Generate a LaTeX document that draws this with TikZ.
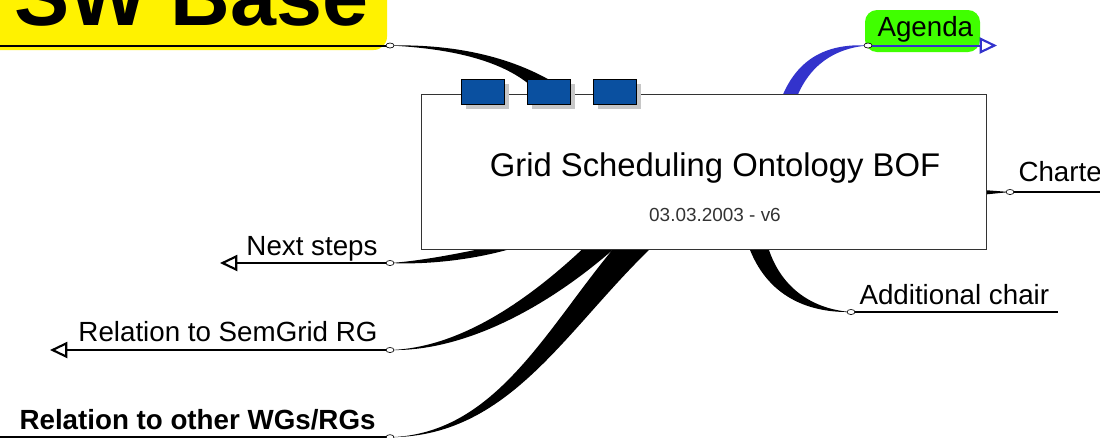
\documentclass[tikz,border=0pt]{standalone}
\usepackage{fontspec}
\setmainfont{Liberation Sans}
\usetikzlibrary{arrows.meta,shadows}

\tikzset{every picture/.style={line width=0.75pt}}
\definecolor{mapblue}{RGB}{51,51,204}
\definecolor{btnblue}{RGB}{10,80,160}
\definecolor{agendagreen}{RGB}{64,255,0}

\tikzset{
  topic/.style={inner sep=0pt, font=\fontsize{20.8}{25}\selectfont},
  topicline/.style={line width=1.5pt},
  branch/.style={fill=black},
  joint/.style={fill=white, draw=black, line width=0.5pt},
  openarrow/.style={-{Triangle[open,length=13pt,width=12pt,line width=1.6pt]}},
  toolbtn/.style={fill=btnblue, draw=black, line width=0.6pt, inner sep=0pt,
    minimum width=32.25pt, minimum height=18.75pt,
    drop shadow={shadow xshift=3.75pt, shadow yshift=-3.75pt, fill=black!22, opacity=1}},
}

\begin{document}
\begin{tikzpicture}[x=0.75pt,y=0.75pt,yscale=-1,xscale=1]
\useasboundingbox (0,0) rectangle (1100,437);
\clip (0,0) rectangle (1100,437);

%Shape: Rectangle (yellow title)
\fill[yellow, rounded corners=10] (-20,-60) rectangle (387,50);
%Shape: Rounded Rectangle (agenda)
\fill[agendagreen, rounded corners=9] (865,10) rectangle (980,52);

% joints and roots
\coordinate (swJoint) at (390,45.5);
\coordinate (swRootA) at (558,85);
\coordinate (swRootB) at (530,85);
\coordinate (swEnd) at (-5,45.5);
\coordinate (agJoint) at (868,45.5);
\coordinate (agRootA) at (780,102);
\coordinate (agRootB) at (795,102);
\coordinate (agTip) at (997,45.5);
\coordinate (chJoint) at (1010,192);
\coordinate (chRootA) at (970,189);
\coordinate (chRootB) at (970,196);
\coordinate (chEnd) at (1110,192);
\coordinate (chairJoint) at (851,312);
\coordinate (chairRootA) at (745,235);
\coordinate (chairRootB) at (765,235);
\coordinate (chairEnd) at (1058,312);
\coordinate (nsJoint) at (390,263);
\coordinate (nsRootA) at (530,238);
\coordinate (nsRootB) at (520,246);
\coordinate (nsTip) at (220,263);
\coordinate (sgJoint) at (390,350);
\coordinate (sgRootA) at (592,240);
\coordinate (sgRootB) at (628,236);
\coordinate (sgTip) at (50,350);
\coordinate (owJoint) at (390,437.2);
\coordinate (owRootA) at (625,235);
\coordinate (owRootB) at (665,235);
\coordinate (owEnd) at (-5,437.2);

%Curve Lines
\fill[branch] (swJoint) .. controls (450,44) and (510,55) .. (swRootA) -- (swRootB) .. controls (500,60) and (450,48.5) .. (swJoint) -- cycle;
%Curve Lines
\fill[mapblue] (agJoint) .. controls (825,43) and (795,60) .. (agRootA) -- (agRootB) .. controls (808,65) and (835,48) .. (agJoint) -- cycle;
%Straight Lines
\fill[branch] (chJoint) -- (chRootA) -- (chRootB) -- cycle;
%Curve Lines
\fill[branch] (chairJoint) .. controls (800,313) and (760,290) .. (chairRootA) -- (chairRootB) .. controls (775,285) and (810,309) .. (chairJoint) -- cycle;
%Curve Lines
\fill[branch] (nsJoint) .. controls (420,261) and (460,254) .. (nsRootA) -- (nsRootB) .. controls (480,259) and (430,265) .. (nsJoint) -- cycle;
%Curve Lines
\fill[branch] (sgJoint) .. controls (460,348) and (530,300) .. (sgRootA) -- (sgRootB) .. controls (560,300) and (470,352) .. (sgJoint) -- cycle;
%Curve Lines
\fill[branch] (owJoint) .. controls (500,434) and (550,320) .. (owRootA) -- (owRootB) .. controls (570,320) and (515,437) .. (owJoint) -- cycle;

%Shape: Rectangle (central topic)
\node[draw=black!80, fill=white, inner sep=0pt, minimum width=423.75pt, minimum height=116.25pt] (bof) at (703.5,171.5) {};
\node[toolbtn] (btnA) at (482.5,91.5) {};
\node[toolbtn] (btnB) at (548.5,91.5) {};
\node[toolbtn] (btnC) at (614.5,91.5) {};

%Straight Lines
\draw[topicline] (swJoint) -- (swEnd);
\draw[topicline, draw=mapblue, openarrow] (agJoint) -- (agTip);
\draw[topicline] (chJoint) -- (chEnd);
\draw[topicline] (chairJoint) -- (chairEnd);
\draw[topicline, openarrow] (nsJoint) -- (nsTip);
\draw[topicline, openarrow] (sgJoint) -- (sgTip);
\draw[topicline] (owJoint) -- (owEnd);

%Shape: Ellipse
\foreach \j in {swJoint,agJoint,chJoint,chairJoint,nsJoint,sgJoint,owJoint}
  \draw[joint] (\j) ellipse [x radius=3pt, y radius=1.9pt];

% Text Node
\node[anchor=base west, inner sep=0pt, font=\fontsize{62}{70}\selectfont\bfseries] (swBase) at (14,25) {SW Base};
% Text Node
\node[anchor=base, inner sep=0pt, font=\fontsize{24.6}{29}\selectfont] (title) at (715,176) {Grid Scheduling Ontology BOF};
% Text Node
\node[anchor=base, inner sep=0pt, font=\fontsize{14.2}{17}\selectfont, text=black!80] (version) at (715,221) {03.03.2003 - v6};
% Text Node
\node[topic, anchor=base west] (agenda) at (877,36) {Agenda};
% Text Node
\node[topic, anchor=base west] (charter) at (1018,181) {Charter};
% Text Node
\node[topic, anchor=base west] (addChair) at (859,304) {Additional chair};
% Text Node
\node[topic, anchor=base east] (nextSteps) at (378,255) {Next steps};
% Text Node
\node[topic, anchor=base east] (semGrid) at (378,341) {Relation to SemGrid RG};
% Text Node
\node[topic, anchor=base east, font=\fontsize{20.8}{25}\selectfont\bfseries] (otherWG) at (376,429) {Relation to other WGs/RGs};

\end{tikzpicture}
\end{document}
